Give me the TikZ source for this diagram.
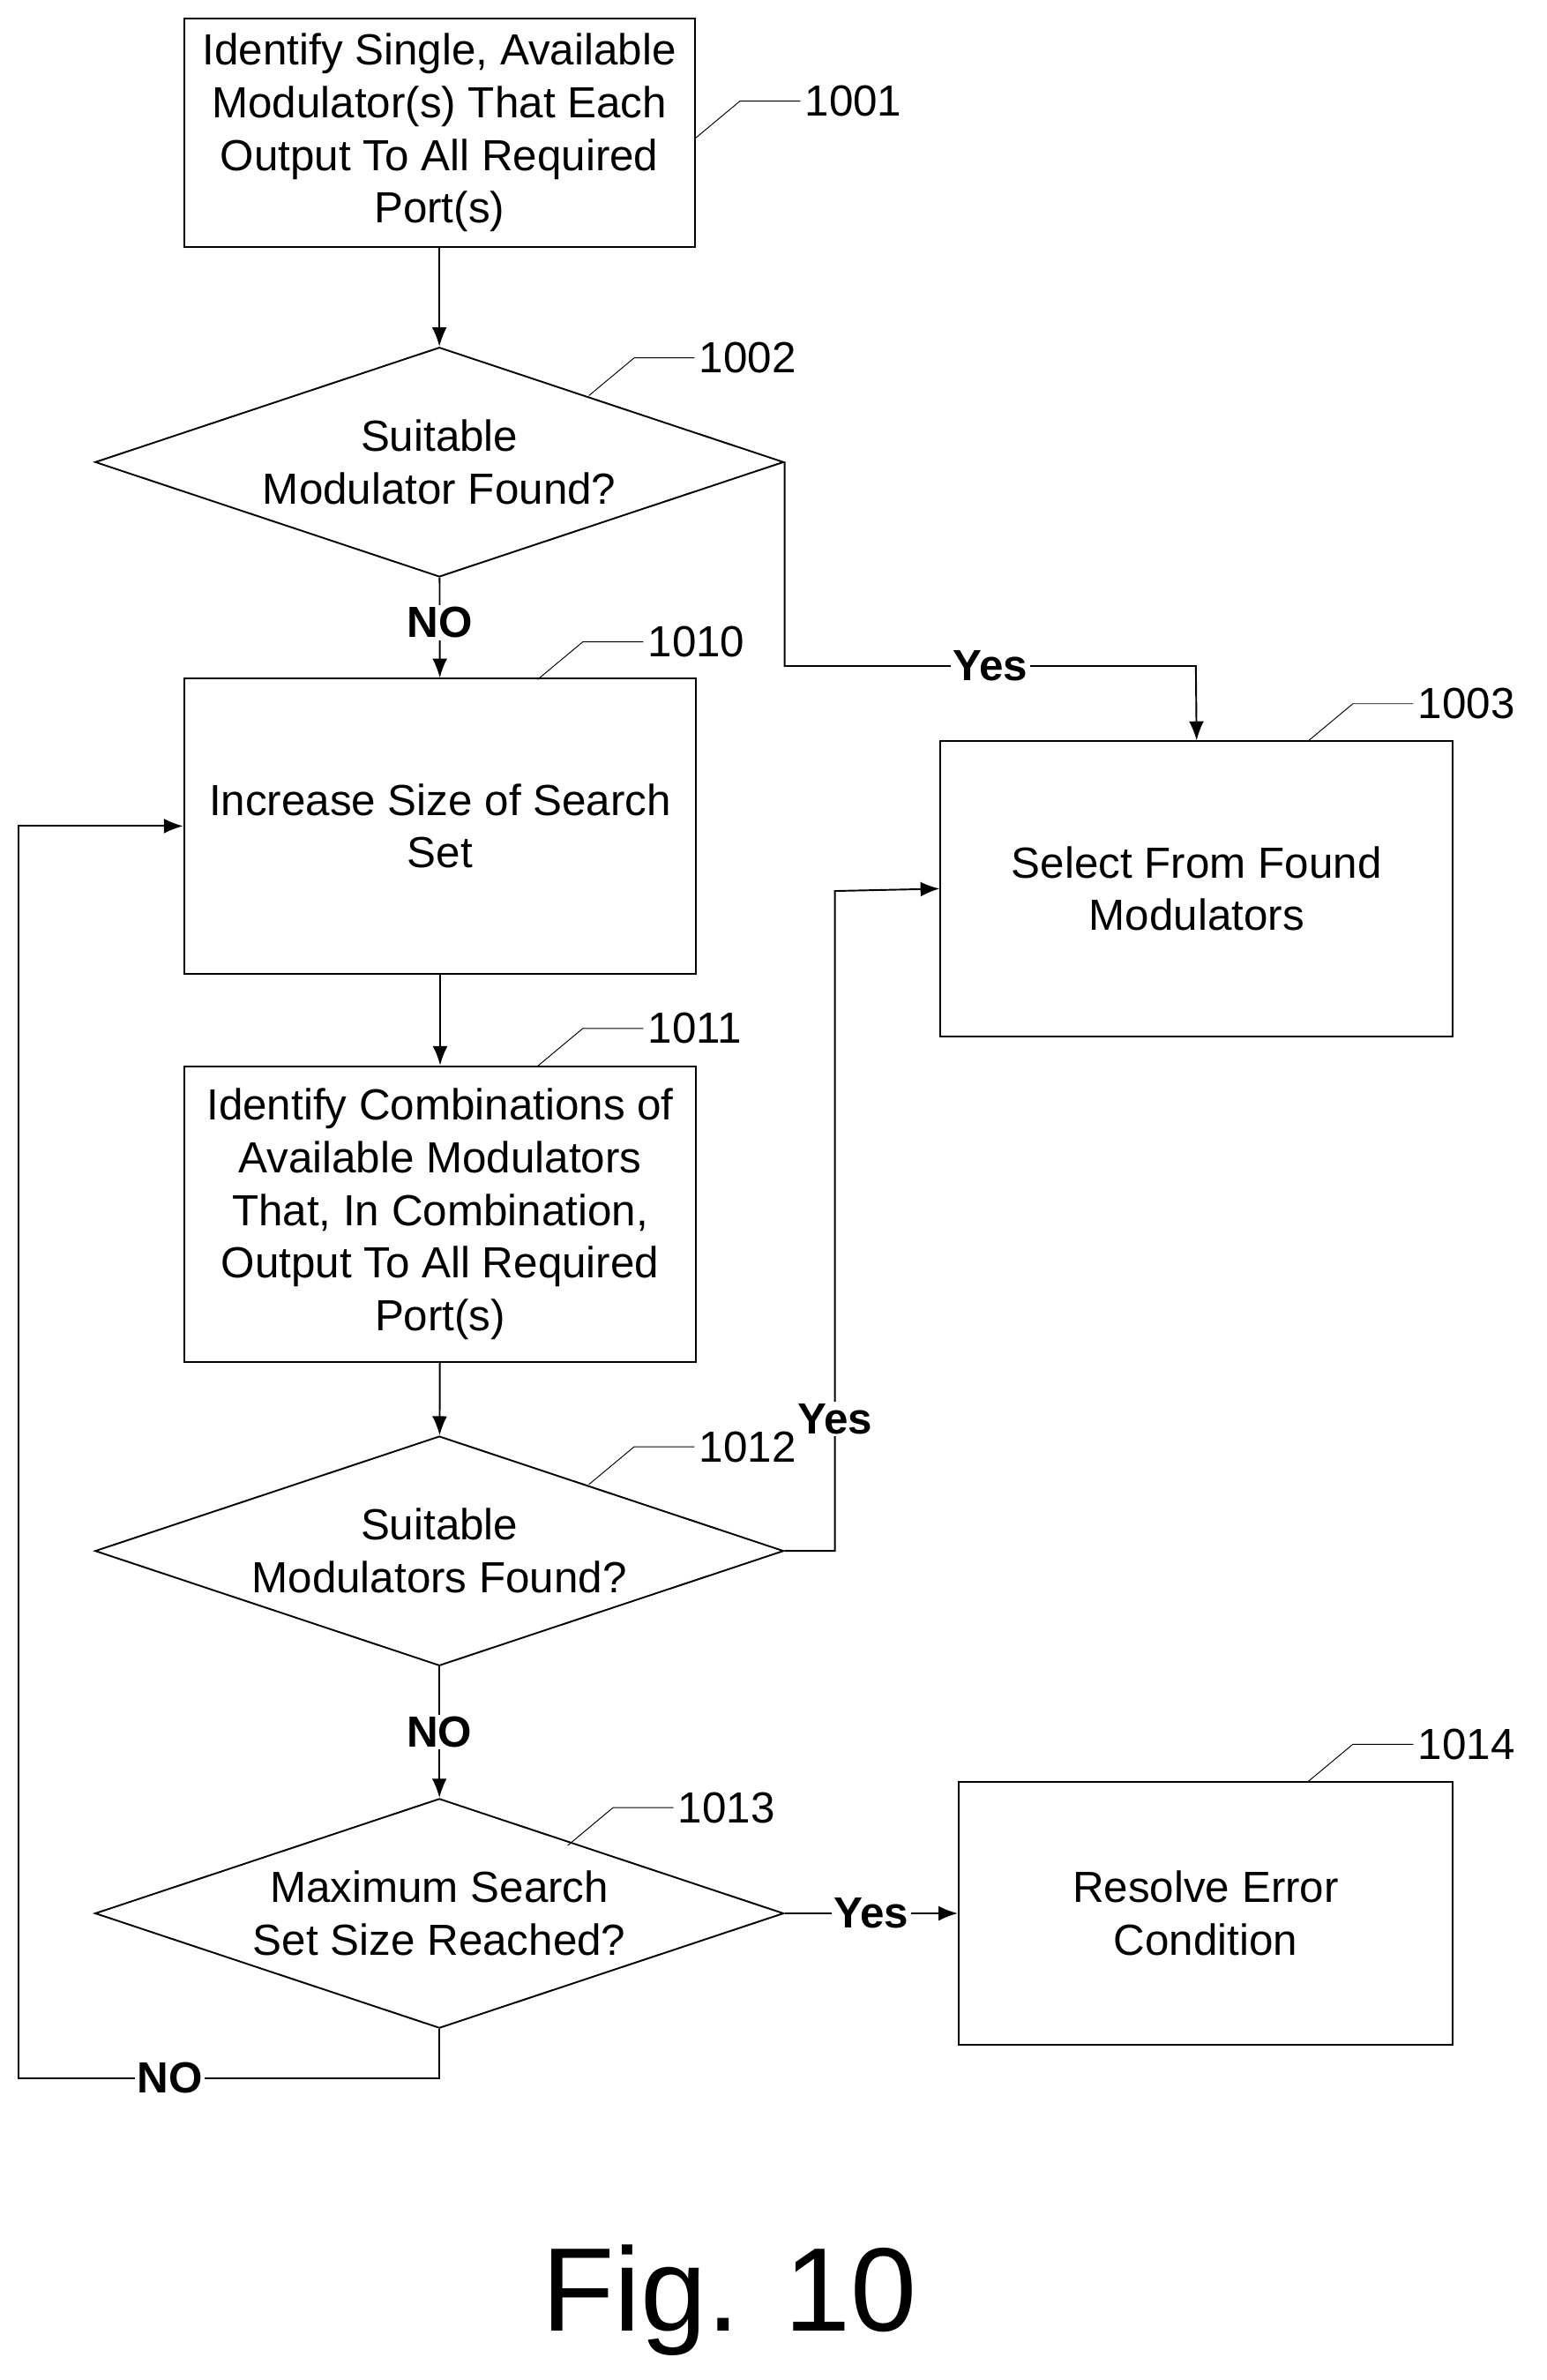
\documentclass[tikz,border=0pt]{standalone}
\usepackage{fontspec}
\setmainfont{Liberation Sans}
\usetikzlibrary{shapes.geometric, arrows.meta}
\begin{document}
\begin{tikzpicture}[x=0.025cm, y=-0.025cm,
	font=\fontsize{20.5}{24.8}\selectfont,
	box/.style={draw, thick, align=center, inner sep=2pt}, % process box
	dec/.style={draw, thick, diamond, aspect=3, inner sep=0pt, minimum width=11.4cm, minimum height=3.8cm, align=center}, % decision
	flow/.style={thick, -{Latex[length=9pt,width=7pt]}},
	lbl/.style={font=\fontsize{20.5}{24.8}\selectfont\bfseries, fill=white, inner sep=1pt},
	ref/.style={thin}
	]
	\useasboundingbox (0,0) rectangle (1024,1576);
	% boxes
	\node[box, minimum width=8.45cm, minimum height=3.78cm] (s1001) at (291,88) {Identify Single, Available\\Modulator(s) That Each\\Output To All Required\\Port(s)};
	\node[dec] (s1002) at (291,306) {Suitable\\Modulator Found?};
	\node[box, minimum width=8.48cm, minimum height=4.88cm] (s1010) at (291.5,547) {Increase Size of Search\\Set};
	\node[box, minimum width=8.48cm, minimum height=4.88cm] (s1003) at (792.5,588.5) {Select From Found\\Modulators};
	\node[box, minimum width=8.48cm, minimum height=4.9cm] (s1011) at (291.5,804) {Identify Combinations of\\Available Modulators\\That, In Combination,\\Output To All Required\\Port(s)};
	\node[dec] (s1012) at (291,1027) {Suitable\\Modulators Found?};
	\node[dec] (s1013) at (291,1267) {Maximum Search\\Set Size Reached?};
	\node[box, minimum width=8.18cm, minimum height=4.35cm] (s1014) at (798.5,1267) {Resolve Error\\Condition};
	% connectors
	\draw[flow] (s1001) -- (s1002);
	\draw[flow] (s1002) -- node[lbl, pos=0.45] {NO} (s1010);
	\draw[flow] (s1002.east) |- (792,441) node[lbl, pos=0.75] {Yes} -- (s1003.north);
	\draw[flow] (s1010) -- (s1011);
	\draw[flow] (s1011) -- (s1012);
	\draw[flow] (s1012.east) -| (553,590) node[lbl, pos=0.6] {Yes} -- (s1003.west);
	\draw[flow] (s1012) -- node[lbl, pos=0.5] {NO} (s1013);
	\draw[flow] (s1013.east) -- node[lbl, pos=0.5] {Yes} (s1014.west);
	\coordinate (loop) at (12,1376);
	\draw[flow] (s1013.south) |- node[lbl, pos=0.82] {NO} (loop) |- (s1010.west);
	% reference numerals
	\foreach \x/\y/\n in {460/92/1001, 390/262/1002, 356/450/1010, 866/491/1003, 356/706/1011, 390/983/1012, 376/1222/1013, 866/1180/1014}
		\draw[ref] (\x,\y) -- ++(30,-25) -- ++(40,0) node[right, inner sep=2pt] {\n};
	\node (fig) at (483,1523) {\fontsize{56}{60}\selectfont Fig. 10};
\end{tikzpicture}
\end{document}
